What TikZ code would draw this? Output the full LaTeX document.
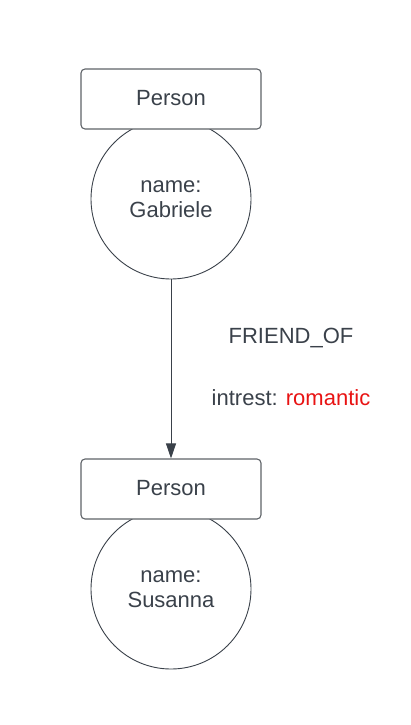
\documentclass[tikz,border=0pt]{standalone}
\usepackage{fontspec}
\setmainfont{Liberation Sans}
\usetikzlibrary{positioning, arrows.meta}

\definecolor{inkgray}{HTML}{3A414A}
\definecolor{boxgray}{HTML}{5F6368}
\definecolor{relred}{HTML}{E81313}

\begin{document}
\begin{tikzpicture}[
        x=1pt, y=1pt,
        personbox/.style={draw=boxgray, line width=1.1pt, fill=white, rounded corners=4pt,
            minimum width=180pt, minimum height=60pt, anchor=center, text=inkgray,
            font=\fontsize{22}{26}\selectfont},
        namecircle/.style={circle, draw=inkgray, line width=0.9pt, minimum size=160pt,
            inner sep=0pt, align=center, text=inkgray, font=\fontsize{22}{24.5}\selectfont},
        rellabel/.style={anchor=base, text=inkgray, font=\fontsize{22}{26}\selectfont}
    ]
        \useasboundingbox (0,0) rectangle (410,-725);

        % nodes: circles first, boxes on top
        \node[namecircle] (gabriele) at (171,-199) {name:\\Gabriele};
        \node[personbox] (person1) at (171,-99) {\raisebox{1.5pt}{Person}};

        \node[namecircle] (susanna) at (171,-589) {name:\\Susanna};
        \node[personbox] (person2) at (171,-489) {\raisebox{1.5pt}{Person}};

        % relationship
        \draw[inkgray, line width=0.9pt, -{Triangle[length=15pt, width=10pt]}] (gabriele.south) -- (person2.north);
        \node[rellabel] (reltype) at (291,-343) {FRIEND\_OF};
        \node[rellabel] (relprop) at (291,-405) {intrest: \textcolor{relred}{romantic}};

    \end{tikzpicture}
\end{document}
